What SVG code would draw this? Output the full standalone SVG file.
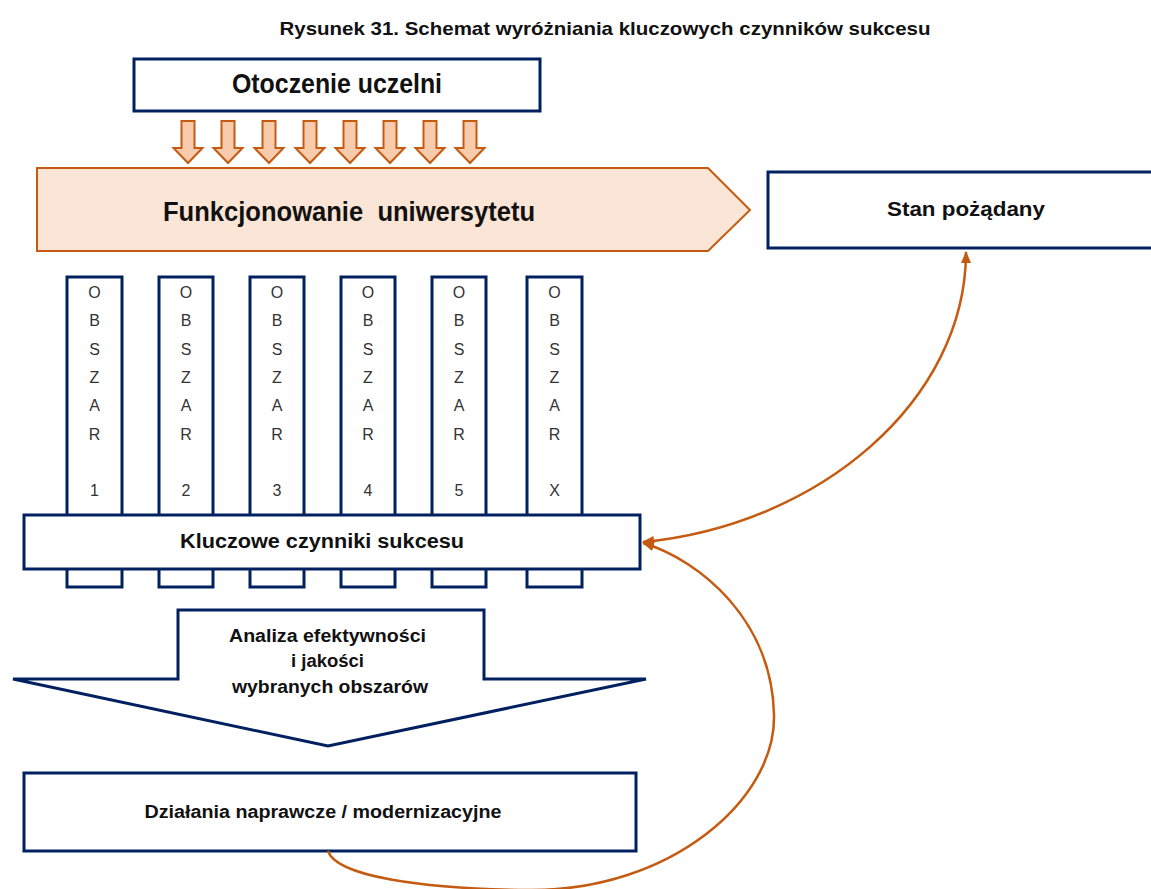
<svg xmlns="http://www.w3.org/2000/svg" width="1151" height="889" viewBox="0 0 1151 889">
  <defs>
    <style>
      .box { fill: #ffffff; stroke: #002060; stroke-width: 3; }
      .lbl { font-family: "Liberation Sans", Arial, sans-serif; font-weight: bold; fill: #111111; text-anchor: middle; }
      .col { font-family: "Liberation Sans", Arial, sans-serif; font-size: 16px; fill: #333333; text-anchor: middle; }
      .flow { fill: none; stroke: #c55a11; stroke-width: 2.5; }
      .push { fill: #f8cbad; stroke: #c55a11; stroke-width: 2; }
    </style>
    <marker id="head" viewBox="0 0 12 10" refX="11" refY="5" markerWidth="12" markerHeight="10" markerUnits="userSpaceOnUse" orient="auto-start-reverse">
      <path d="M0,0 L12,5 L0,10 Z" fill="#c55a11"/>
    </marker>
    <!-- one inward-pressure arrow, centred on x=0 -->
    <path id="push" d="M-6.5,0 H6.5 V27 H14.5 L0,42 L-14.5,27 H-6.5 Z"/>
  </defs>

  <text class="lbl" x="605" y="35" font-size="19" textLength="651" lengthAdjust="spacingAndGlyphs">Rysunek 31. Schemat wyróżniania kluczowych czynników sukcesu</text>

  <g id="otoczenie">
    <rect class="box" x="134" y="59" width="406" height="52"/>
    <text class="lbl" x="337" y="93" font-size="27" textLength="210" lengthAdjust="spacingAndGlyphs">Otoczenie uczelni</text>
  </g>

  <g id="wplywy">
    <use href="#push" class="push" x="188" y="121"/>
    <use href="#push" class="push" x="228" y="121"/>
    <use href="#push" class="push" x="269" y="121"/>
    <use href="#push" class="push" x="310" y="121"/>
    <use href="#push" class="push" x="350" y="121"/>
    <use href="#push" class="push" x="390" y="121"/>
    <use href="#push" class="push" x="430" y="121"/>
    <use href="#push" class="push" x="470" y="121"/>
  </g>

  <g id="funkcjonowanie">
    <path d="M37,168 H708 L750,210 L708,251 H37 Z" fill="#fbe5d6" stroke="#c55a11" stroke-width="2"/>
    <text class="lbl" x="349" y="221" font-size="27" style="white-space:pre" textLength="372" lengthAdjust="spacingAndGlyphs">Funkcjonowanie  uniwersytetu</text>
  </g>

  <g id="stan">
    <rect class="box" x="768" y="172" width="400" height="76"/>
    <text class="lbl" x="966" y="216" font-size="20" textLength="158" lengthAdjust="spacingAndGlyphs">Stan pożądany</text>
  </g>

  <g id="obszary">
    <g id="obszar1">
      <rect class="box" x="67" y="277" width="55" height="310"/>
      <text class="col" x="94.5"><tspan x="94.5" y="298">O</tspan><tspan x="94.5" y="326">B</tspan><tspan x="94.5" y="355">S</tspan><tspan x="94.5" y="383">Z</tspan><tspan x="94.5" y="411">A</tspan><tspan x="94.5" y="440">R</tspan><tspan x="94.5" y="496">1</tspan></text>
    </g>
    <g id="obszar2">
      <rect class="box" x="159" y="277" width="54" height="310"/>
      <text class="col" x="186"><tspan x="186" y="298">O</tspan><tspan x="186" y="326">B</tspan><tspan x="186" y="355">S</tspan><tspan x="186" y="383">Z</tspan><tspan x="186" y="411">A</tspan><tspan x="186" y="440">R</tspan><tspan x="186" y="496">2</tspan></text>
    </g>
    <g id="obszar3">
      <rect class="box" x="250" y="277" width="54" height="310"/>
      <text class="col" x="277"><tspan x="277" y="298">O</tspan><tspan x="277" y="326">B</tspan><tspan x="277" y="355">S</tspan><tspan x="277" y="383">Z</tspan><tspan x="277" y="411">A</tspan><tspan x="277" y="440">R</tspan><tspan x="277" y="496">3</tspan></text>
    </g>
    <g id="obszar4">
      <rect class="box" x="341" y="277" width="54" height="310"/>
      <text class="col" x="368"><tspan x="368" y="298">O</tspan><tspan x="368" y="326">B</tspan><tspan x="368" y="355">S</tspan><tspan x="368" y="383">Z</tspan><tspan x="368" y="411">A</tspan><tspan x="368" y="440">R</tspan><tspan x="368" y="496">4</tspan></text>
    </g>
    <g id="obszar5">
      <rect class="box" x="432" y="277" width="54" height="310"/>
      <text class="col" x="459"><tspan x="459" y="298">O</tspan><tspan x="459" y="326">B</tspan><tspan x="459" y="355">S</tspan><tspan x="459" y="383">Z</tspan><tspan x="459" y="411">A</tspan><tspan x="459" y="440">R</tspan><tspan x="459" y="496">5</tspan></text>
    </g>
    <g id="obszarX">
      <rect class="box" x="527" y="277" width="55" height="310"/>
      <text class="col" x="554.5"><tspan x="554.5" y="298">O</tspan><tspan x="554.5" y="326">B</tspan><tspan x="554.5" y="355">S</tspan><tspan x="554.5" y="383">Z</tspan><tspan x="554.5" y="411">A</tspan><tspan x="554.5" y="440">R</tspan><tspan x="554.5" y="496">X</tspan></text>
    </g>
  </g>

  <g id="kluczowe">
    <rect class="box" x="24" y="515" width="616" height="54"/>
    <text class="lbl" x="322" y="548" font-size="20" textLength="284" lengthAdjust="spacingAndGlyphs">Kluczowe czynniki sukcesu</text>
  </g>

  <g id="analiza">
    <path class="box" d="M178,610 H484 V679 H646 L328,746 L13,679 H178 Z"/>
    <text class="lbl" font-size="18">
      <tspan x="330" y="642" textLength="197" lengthAdjust="spacingAndGlyphs">Analiza efektywności</tspan>
      <tspan x="330" y="667" textLength="73" lengthAdjust="spacingAndGlyphs">i jakości</tspan>
      <tspan x="330" y="693" textLength="196" lengthAdjust="spacingAndGlyphs">wybranych obszarów</tspan>
    </text>
  </g>

  <g id="dzialania">
    <rect class="box" x="24" y="773" width="612" height="78"/>
    <text class="lbl" x="323" y="818" font-size="18" textLength="357" lengthAdjust="spacingAndGlyphs">Działania naprawcze / modernizacyjne</text>
  </g>

  <g id="connectors">
    <path class="flow" d="M643,542 C820,525 966,400 966,252" marker-start="url(#head)" marker-end="url(#head)"/>
    <path class="flow" d="M328,851 C336,876 420,889 530,890 C670,891 776,800 774,715 C772,620 700,560 643,543" marker-end="url(#head)"/>
  </g>
</svg>
